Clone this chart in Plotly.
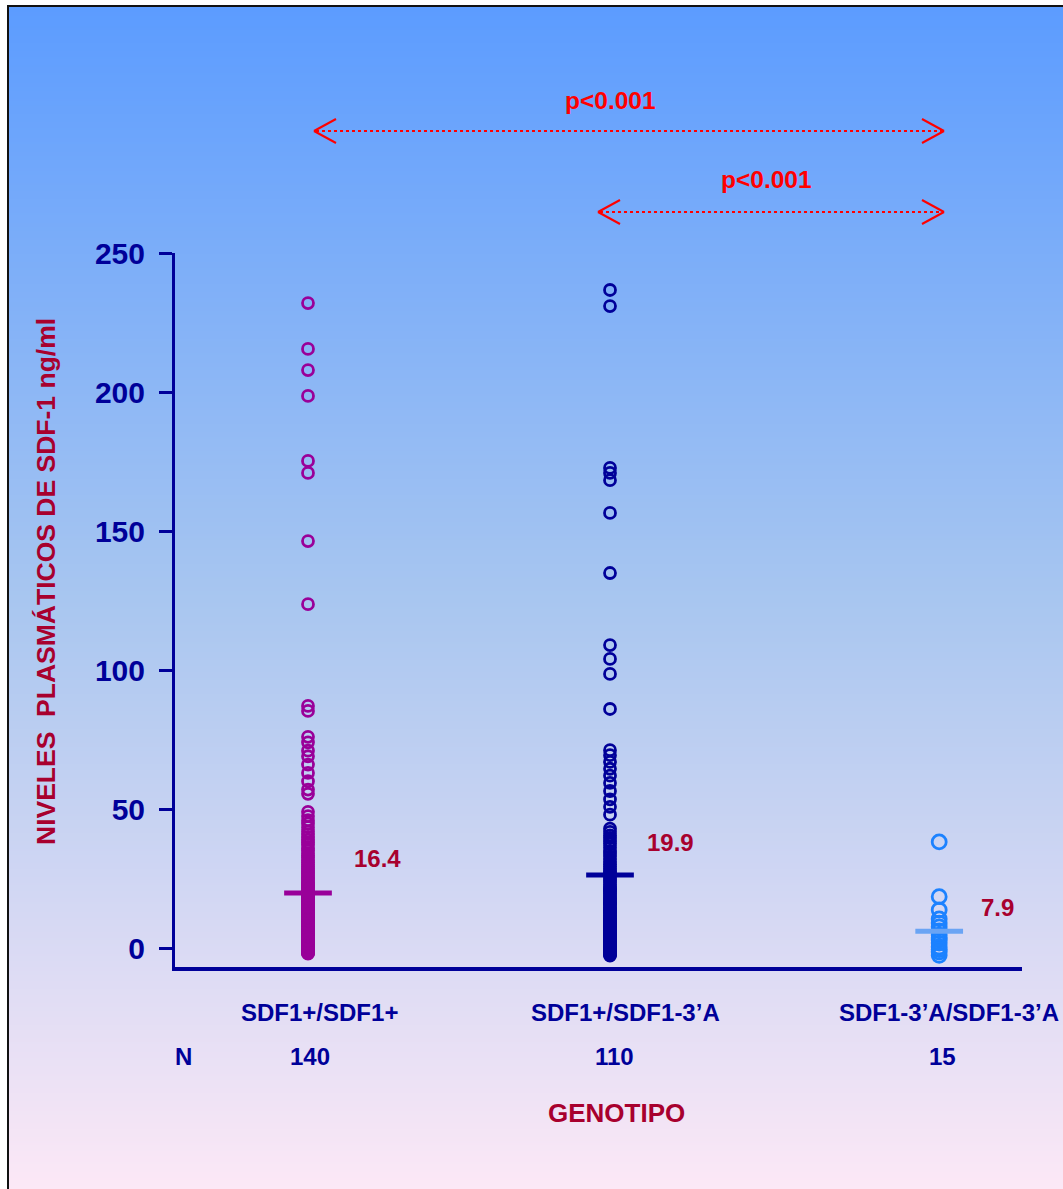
import base64
import struct
import zlib

import plotly.graph_objects as go

# ---------------- data ----------------
groups = ["SDF1+/SDF1+", "SDF1+/SDF1-3’A", "SDF1-3’A/SDF1-3’A"]
group_x = [1.0, 2.0, 3.09]
group_n = ["140", "110", "15"]
median_labels = ["16.4", "19.9", "7.9"]
median_marks = [19.8, 26.3, 6.1]

vals_wt = [
    232.0, 215.5, 207.9, 198.6, 175.2, 170.9, 146.4, 123.7, 87.1, 85.3,
    76.0, 74.0, 71.0, 69.0, 66.0, 63.0, 60.0, 57.0, 55.5,
    49.0, 47.5, 46.0, 44.8, 43.5, 42.0, 41.0, 40.0, 39.0, 38.0, 37.2, 36.0, 35.1, 34.0, 33.2, 32.5, 31.6, 30.8, 30.0, 29.3,
    28.6, 28.0, 27.4, 26.8, 26.1, 25.5, 25.0, 24.4, 23.8, 23.2, 22.7, 22.1, 21.6, 21.0, 20.5, 20.0, 19.6, 19.1, 18.7, 18.2,
    17.8, 17.4, 17.0, 16.6, 16.2, 15.8, 15.4, 15.0, 14.6, 14.3, 13.9, 13.5, 13.2, 12.8, 12.5, 12.1, 11.8, 11.4, 11.1, 10.8,
    10.5, 10.2, 9.9, 9.6, 9.3, 9.0, 8.7, 8.4, 8.1, 7.8, 7.5, 7.2, 6.9, 6.6, 6.3, 6.0, 5.8, 5.5, 5.2, 5.0,
    4.7, 4.5, 4.2, 4.0, 3.8, 3.5, 3.3, 3.1, 2.9, 2.7, 2.5, 2.3, 2.1, 1.9, 1.7, 1.5, 1.3, 1.1, 0.9, 0.7,
    0.5, 0.3, 0.1, 0.0, -0.2, -0.4, -0.6, -0.8, -1.0, -1.2, -1.4, -1.6, -1.8, -2.0, 12.0, 15.2, 18.0, 22.4, 8.8, 3.0,
]

vals_het = [
    236.7, 230.9, 172.7, 170.9, 168.3, 156.5, 134.9, 109.0, 104.0, 98.6, 86.0,
    71.2, 69.4, 67.0, 64.5, 62.0, 59.4, 56.5, 53.5, 50.8, 48.0,
    43.0, 41.8, 40.5, 39.6, 38.4, 37.5, 36.2, 35.0, 34.1, 33.0, 32.0, 31.0, 30.2, 29.3, 28.5, 27.6, 26.8, 26.0, 25.2, 24.5,
    23.8, 23.0, 22.3, 21.6, 21.0, 20.3, 19.7, 19.0, 18.4, 17.8, 17.2, 16.6, 16.0, 15.4, 14.8, 14.2, 13.7, 13.1, 12.6, 12.0,
    11.5, 11.0, 10.5, 10.0, 9.5, 9.0, 8.6, 8.1, 7.7, 7.2, 6.8, 6.4, 6.0, 5.6, 5.2, 4.8, 4.4, 4.0, 3.7, 3.3,
    3.0, 2.6, 2.3, 2.0, 1.7, 1.4, 1.1, 0.8, 0.5, 0.2, 0.0, -0.3, -0.6, -0.9, -1.2, -1.5, -1.8, -2.1, -2.4, -2.7,
    27.0, 21.2, 16.3, 13.4, 9.8, 7.4, 5.4, 2.8, 1.2,
]

vals_hom = [38.2, 18.5, 13.7, 10.5, 9.0, 7.6, 6.2, 4.7, 3.6, 2.9, 1.8, 0.4, -0.5, -1.4, -2.6]

y_ticks = [0, 50, 100, 150, 200, 250]

# ---------------- style ----------------
NAVY = "#000099"
DARKRED = "#a8002e"
RED = "#ff0000"
marker_colors = ["#990099", "#000099", "#1c82ff"]
bar_colors = ["#990099", "#000099", "#6aa4f4"]
marker_sizes = [11, 11, 14]
FONT = "Liberation Sans, Arial, sans-serif"

W, H = 1063, 1189
L, R, T, B = 175, 41, 253, 222
PW, PH = W - L - R, H - T - B


def px(x):
    return (x - L) / PW


def py(y):
    return (H - B - y) / PH


# ---------------- gradient background image ----------------
def make_png(width, height, stops):
    rows = []
    for j in range(height):
        t = j / (height - 1)
        for k in range(len(stops) - 1):
            t0, c0 = stops[k]
            t1, c1 = stops[k + 1]
            if t0 <= t <= t1:
                f = (t - t0) / (t1 - t0)
                c = [round(c0[i] + (c1[i] - c0[i]) * f) for i in range(3)]
                break
        rows.append(b"\x00" + bytes(c * width))
    raw = b"".join(rows)

    def chunk(tag, data):
        return struct.pack(">I", len(data)) + tag + data + struct.pack(">I", zlib.crc32(tag + data) & 0xFFFFFFFF)

    png = b"\x89PNG\r\n\x1a\n"
    png += chunk(b"IHDR", struct.pack(">IIBBBBB", width, height, 8, 2, 0, 0, 0))
    png += chunk(b"IDAT", zlib.compress(raw, 9))
    png += chunk(b"IEND", b"")
    return "data:image/png;base64," + base64.b64encode(png).decode()


grad = make_png(4, 600, [
    (0.0, (92, 156, 255)),
    (0.5, (168, 198, 240)),
    (1.0, (252, 232, 246)),
])

fig = go.Figure()

series = [vals_wt, vals_het, vals_hom]
for i, vals in enumerate(series):
    fig.add_trace(go.Scatter(
        x=[group_x[i]] * len(vals), y=vals, mode="markers",
        marker=dict(symbol="circle-open", size=marker_sizes[i], color=marker_colors[i],
                    line=dict(width=2.8, color=marker_colors[i])),
        showlegend=False, hoverinfo="y", cliponaxis=False,
    ))

for i in range(3):
    half = 0.079
    fig.add_trace(go.Scatter(
        x=[group_x[i] - half, group_x[i] + half], y=[median_marks[i]] * 2,
        mode="lines", line=dict(color=bar_colors[i], width=5),
        showlegend=False, hoverinfo="skip", cliponaxis=False,
    ))


def txt(x, y, text, size, color, **kw):
    d = dict(x=x, y=y, xref="paper", yref="paper", text=text, showarrow=False,
             xanchor="center", yanchor="middle",
             font=dict(family=FONT, size=size, color=color, weight="bold"))
    d.update(kw)
    return d


annotations = []
# median value labels
med_pos = [(377, 858), (670, 842), (997, 907)]
for (x, y), lab in zip(med_pos, median_labels):
    annotations.append(txt(px(x), py(y), lab, 24, DARKRED))
# category labels and N
cat_shift = [11, 15, 10]
n_shift = [2, 4, 3]
for i in range(3):
    annotations.append(txt(group_x[i], py(1012), groups[i], 24, NAVY, xref="x", xshift=cat_shift[i]))
    annotations.append(txt(group_x[i], py(1056), group_n[i], 24, NAVY, xref="x", xshift=n_shift[i]))
annotations.append(txt(px(183), py(1056), "N", 24, NAVY))
annotations.append(txt(px(616), py(1113), "GENOTIPO", 26, DARKRED))
annotations.append(txt(px(46), py(582), "NIVELES  PLASMÁTICOS DE SDF-1 ng/ml", 26.5, DARKRED, textangle=-90))
# p-values
annotations.append(txt(px(610), py(100), "p<0.001", 24.5, RED))
annotations.append(txt(px(766), py(180), "p<0.001", 24.5, RED))

shapes = []
# border
shapes.append(dict(type="rect", xref="paper", yref="paper", x0=px(8), y0=py(6), x1=px(1075), y1=py(1200),
                   line=dict(color="#111111", width=2), layer="above"))


def arrow(x0, x1, y):
    out = [dict(type="line", xref="paper", yref="paper", x0=px(x0 + 2), x1=px(x1 - 2), y0=py(y), y1=py(y),
                line=dict(color=RED, width=2, dash="dot"))]
    for tip, d in ((x0, 1), (x1, -1)):
        for s in (-1, 1):
            out.append(dict(type="line", xref="paper", yref="paper", x0=px(tip), y0=py(y),
                            x1=px(tip + d * 22), y1=py(y + s * 12), line=dict(color=RED, width=2)))
    return out


shapes += arrow(314, 944, 131)
shapes += arrow(598, 944, 212)

fig.update_layout(
    width=W, height=H, autosize=False,
    margin=dict(l=L, r=R, t=T, b=B, pad=0),
    paper_bgcolor="white", plot_bgcolor="rgba(0,0,0,0)",
    showlegend=False,
    xaxis=dict(range=[0.5596, 3.3642], showgrid=False, zeroline=False, showticklabels=False,
               ticks="", showline=True, linecolor=NAVY, linewidth=3.5, fixedrange=True),
    yaxis=dict(range=[-6.8, 250], showgrid=False, zeroline=False, tickvals=y_ticks,
               ticks="outside", ticklen=13, tickwidth=3, tickcolor=NAVY,
               showline=True, linecolor=NAVY, linewidth=3, ticklabelstandoff=8,
               tickfont=dict(family=FONT, size=30, color=NAVY, weight="bold"), fixedrange=True),
    annotations=annotations,
    shapes=shapes,
    images=[dict(source=grad, xref="paper", yref="paper", x=px(9), y=py(7),
                 sizex=(W - 9) / PW, sizey=(H - 7) / PH, sizing="stretch",
                 xanchor="left", yanchor="top", layer="below")],
)

fig.write_html("out.html")
